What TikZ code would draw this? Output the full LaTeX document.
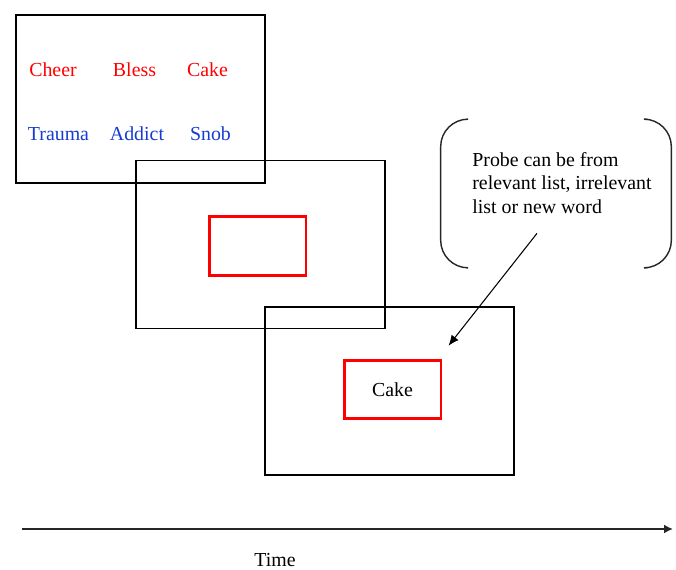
\documentclass[tikz,border=0pt]{standalone}
\usepackage{fontspec}
\setmainfont{Liberation Serif}
\usepackage{tikz}
\usetikzlibrary{positioning}
\usetikzlibrary{arrows.meta}
\definecolor{wordblue}{RGB}{20,60,210}
\tikzstyle{frame}    = [rectangle, draw, line width=1.1pt, minimum width=4.98cm, minimum height=3.36cm]
\tikzstyle{probebox} = [rectangle, draw=red, line width=1.7pt, minimum width=1.94cm, minimum height=1.17cm, text centered]
\tikzstyle{relword}  = [text=red, anchor=base, inner sep=0pt]
\tikzstyle{irrword}  = [text=wordblue, anchor=base, inner sep=0pt]
\tikzstyle{plain}    = [draw=none, fill=none, inner sep=0pt]
\tikzstyle{bracket}  = [draw=black!85, line width=0.8pt, rounded corners=0.55cm]
\tikzstyle{pointer}  = [draw, line width=0.6pt, -{Latex[length=6pt,width=5pt]}]
\tikzstyle{timeline} = [draw=black!85, line width=1.1pt, -{Latex[length=5pt,width=5pt]}]
\begin{document}
\begin{tikzpicture}[x=0.02cm, y=-0.02cm, font=\fontsize{11.3}{13.3}\selectfont]
	\useasboundingbox (0,0) rectangle (676,570);

	% place frames
	\node [frame] (F1) at (140.5,99)  {};
	\node [frame] (F2) at (260.5,244.5) {};
	\node [frame] (F3) at (389.5,391) {};
	\node [probebox] (R2) at (257.5,246)   {};
	\node [probebox] (R3) at (392.5,389.5) {Cake};

	% word lists
	\node [relword] (W1) at (53,77)    {Cheer};
	\node [relword] (W2) at (134.5,77) {Bless};
	\node [relword] (W3) at (207.5,77) {Cake};
	\node [irrword] (W4) at (58.5,141) {Trauma};
	\node [irrword] (W5) at (137,141)  {Addict};
	\node [irrword] (W6) at (210.5,141) {Snob};

	% callout
	\node [plain, minimum width=4.6cm, minimum height=2.96cm] (C) at (556,193.5) {};
	\node [plain, align=left, anchor=north west] (P) at (472,152)
		{Probe can be from\\relevant list, irrelevant\\list or new word};
	\draw [bracket] ([xshift=0.52cm]C.north west) -- (C.north west) -- (C.south west) -- ([xshift=0.52cm]C.south west);
	\draw [bracket] ([xshift=-0.48cm]C.north east) -- (C.north east) -- (C.south east) -- ([xshift=-0.48cm]C.south east);

	% time axis
	\coordinate (T0) at (22,529);
	\coordinate (T1) at (673,529);
	\node [plain, anchor=base] (T) at (275,566) {Time};

	% draw edges
	\path [pointer] ([xshift=-0.38cm,yshift=0.69cm]C.south) -- ([xshift=0.12cm,yshift=0.26cm]R3.north east);
	\path [timeline] (T0) -- (T1);
\end{tikzpicture}
\end{document}
